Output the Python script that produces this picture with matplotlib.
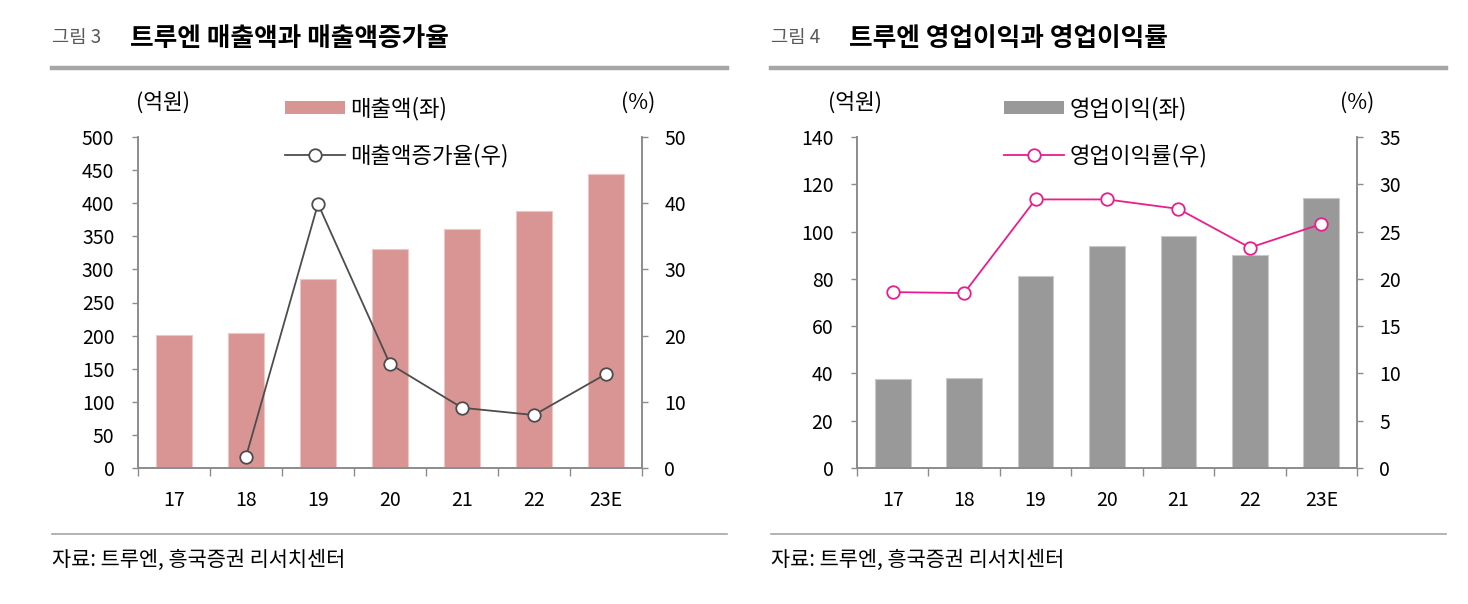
import matplotlib
matplotlib.use('Agg')
from matplotlib import pyplot as plt
from matplotlib.lines import Line2D
from matplotlib.patches import Patch
import numpy as np

plt.rcParams['font.family'] = ['Noto Sans CJK KR', 'DejaVu Sans']

years = ['17', '18', '19', '20', '21', '22', '23E']

# 그림 3: 매출액 (억원), 매출액증가율 (%)
sales = [201, 204, 285, 331, 361, 388, 444]
sales_growth = [np.nan, 1.7, 39.9, 15.7, 9.1, 8.0, 14.2]

# 그림 4: 영업이익 (억원), 영업이익률 (%)
op_profit = [37.6, 38.1, 81.2, 93.9, 98.1, 90.1, 114.2]
op_margin = [18.6, 18.5, 28.4, 28.4, 27.4, 23.3, 25.8]

W, H = 1468, 604
fig = plt.figure(figsize=(W / 100, H / 100), dpi=100)

AXIS_GRAY = '#8C8C8C'
RULE_GRAY = '#A6A6A6'


def px(x, y):
    return x / W, 1 - y / H


def style_axes(ax, ax2):
    for a in (ax, ax2):
        a.spines['top'].set_visible(False)
        for s in ('left', 'right', 'bottom'):
            a.spines[s].set_color(AXIS_GRAY)
            a.spines[s].set_linewidth(1.2)
    ax.tick_params(axis='y', direction='out', length=4, width=1, color=AXIS_GRAY,
                   labelsize=14, pad=13)
    ax2.tick_params(axis='y', direction='out', length=4, width=1, color=AXIS_GRAY,
                    labelsize=14, pad=12)
    # x ticks sit on category boundaries, labels centred under bars
    ax.set_xticks(np.arange(-0.5, len(years), 1.0))
    ax.set_xticks(np.arange(len(years)), minor=True)
    ax.set_xticklabels([])
    ax.set_xticklabels(years, minor=True)
    ax.tick_params(axis='x', which='major', direction='out', length=6, width=1,
                   color=AXIS_GRAY)
    ax.tick_params(axis='x', which='minor', length=0, labelsize=14, pad=16)
    ax.set_xlim(-0.5, len(years) - 0.5)


def panel(x0, x1, fig_no, title, bars, bar_color, bar_edge, bar_label, ymax, ystep,
          line, line_color, line_label, y2max, y2step, unit_x, pct_x):
    # header
    fig.text(*px(x0 - 86, 38), '그림 ' + str(fig_no), fontsize=13.5, color='#595959',
             va='center', ha='left')
    fig.text(*px(x0 - 8, 38), title, fontsize=18.5, fontweight='bold', color='black',
             va='center', ha='left')
    fig.add_artist(Line2D([(x0 - 86) / W, (x0 + 589) / W], [1 - 68 / H] * 2,
                          color=RULE_GRAY, lw=3.2))
    fig.add_artist(Line2D([(x0 - 86) / W, (x0 + 589) / W], [1 - 534 / H] * 2,
                          color=RULE_GRAY, lw=1.2))
    fig.text(*px(x0 - 86, 560), '자료: 트루엔, 흥국증권 리서치센터', fontsize=15,
             color='black', va='center', ha='left')

    l, b = px(x0, 468)
    r, t = px(x1, 137)
    ax = fig.add_axes([l, b, r - l, t - b])
    ax2 = ax.twinx()

    x = np.arange(len(years))
    ax.bar(x, bars, width=0.5, color=bar_color, edgecolor=bar_edge, linewidth=0.8)
    ax.set_ylim(0, ymax)
    ax.set_yticks(np.arange(0, ymax + 1e-9, ystep))

    ax2.plot(x, line, color=line_color, lw=1.3, marker='o', markersize=9,
             markerfacecolor='white', markeredgecolor=line_color, markeredgewidth=1.3)
    ax2.set_ylim(0, y2max)
    ax2.set_yticks(np.arange(0, y2max + 1e-9, y2step))
    ax.set_zorder(1)
    ax2.set_zorder(2)
    ax.patch.set_visible(False)

    style_axes(ax, ax2)

    fig.text(*px(unit_x, 103), '(억원)', fontsize=15.5, ha='center', va='center')
    fig.text(*px(pct_x, 103), '(%)', fontsize=15.5, ha='center', va='center')

    handles = [Patch(facecolor=bar_color, edgecolor='none'),
               Line2D([], [], color=line_color, lw=1.3, marker='o', markersize=9,
                      markerfacecolor='white', markeredgecolor=line_color,
                      markeredgewidth=1.3)]
    fig.legend(handles, [bar_label, line_label], loc='upper left',
               bbox_to_anchor=px(x0 + 147, 97), frameon=False, fontsize=16,
               handlelength=2.7, handleheight=0.5, handletextpad=0.25,
               labelspacing=1.04, borderaxespad=0, borderpad=0)
    return ax, ax2


panel(138, 642, 3, '트루엔 매출액과 매출액증가율', sales, '#D99594', '#EBC7C6', '매출액(좌)',
      500, 50, sales_growth, '#4D4D4D', '매출액증가율(우)', 50, 10, 163, 638)
panel(857, 1357, 4, '트루엔 영업이익과 영업이익률', op_profit, '#999999', '#C9C9C9', '영업이익(좌)',
      140, 20, op_margin, '#E91E8C', '영업이익률(우)', 35, 5, 855, 1357)

plt.savefig('out.png', dpi=100)
